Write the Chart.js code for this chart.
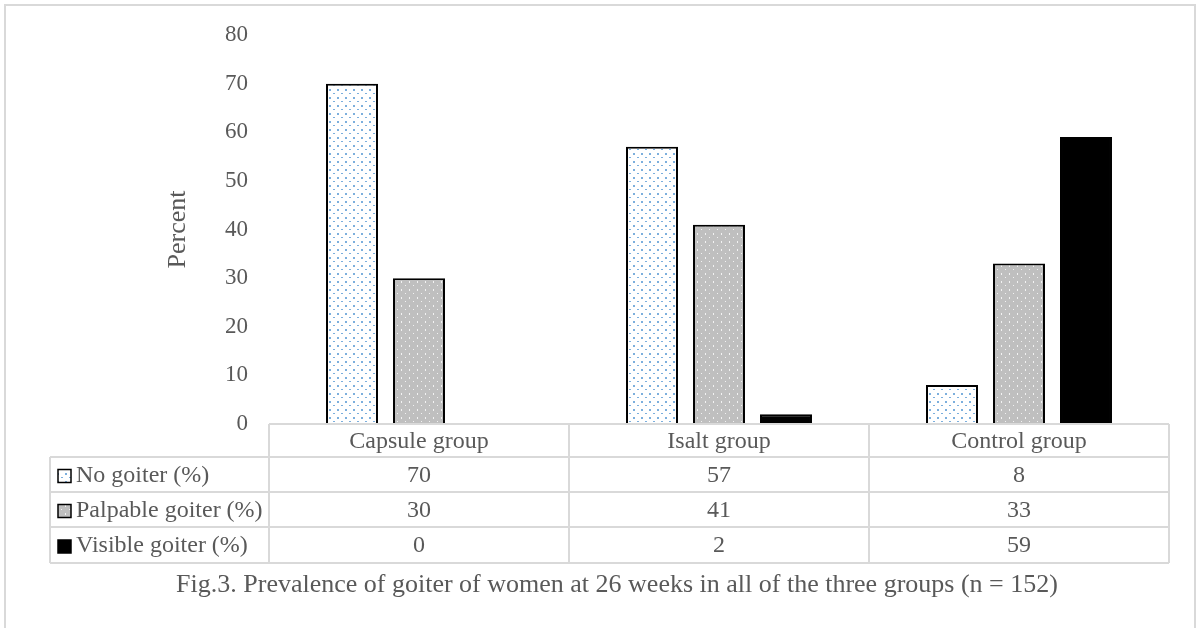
<!DOCTYPE html>
<html>
<head>
<meta charset="utf-8">
<script src="https://cdn.jsdelivr.net/npm/chart.js@4.4.1/dist/chart.umd.min.js"></script>
<style>
  html, body { margin: 0; padding: 0; background: #ffffff; }
  #wrap { width: 1202px; height: 628px; position: relative; }
</style>
</head>
<body>
<div id="wrap"><canvas id="c" width="1202" height="628"></canvas></div>
<script>
// Chart data
const categories = ['Capsule group', 'Isalt group', 'Control group'];
const seriesNames = ['No goiter (%)', 'Palpable goiter (%)', 'Visible goiter (%)'];
const noGoiter = [70, 57, 8];
const palpableGoiter = [30, 41, 33];
const visibleGoiter = [0, 2, 59];
const yTicks = [0, 10, 20, 30, 40, 50, 60, 70, 80];
const caption = 'Fig.3. Prevalence of goiter of women at 26 weeks in all of the three groups (n = 152)';

const FONT = '"Liberation Serif", "Times New Roman", serif';
const TEXT = '#595959';
const GRID = '#d9d9d9';

// Fill patterns
function dotPattern() {
  const t = document.createElement('canvas');
  t.width = 8; t.height = 8;
  const g = t.getContext('2d');
  g.fillStyle = '#ffffff'; g.fillRect(0, 0, 8, 8);
  g.fillStyle = 'rgba(91,155,213,0.8)';
  g.fillRect(1, 1, 2, 2);
  g.fillRect(5, 5, 2, 1);
  return g.createPattern(t, 'repeat');
}
function grayPattern() {
  const t = document.createElement('canvas');
  t.width = 8; t.height = 8;
  const g = t.getContext('2d');
  g.fillStyle = '#bfbfbf'; g.fillRect(0, 0, 8, 8);
  g.fillStyle = 'rgba(255,255,255,0.8)';
  g.fillRect(1, 1, 1, 2);
  g.fillRect(5, 5, 1, 1);
  return g.createPattern(t, 'repeat');
}
const fills = [dotPattern(), grayPattern(), '#000000'];
const seriesData = [noGoiter, palpableGoiter, visibleGoiter];

// Data table, frame and caption under the plot
const tablePlugin = {
  id: 'dataTable',
  afterDraw(chart) {
    const ctx = chart.ctx;
    const area = chart.chartArea;
    const xs = chart.scales.x;
    const left = 50, colX = area.left, right = area.right;
    const top = area.bottom;
    const rowTops = [top, 457, 492, 527, 563];

    ctx.save();
    // outer frame
    ctx.strokeStyle = GRID;
    ctx.lineWidth = 2;
    ctx.strokeRect(5, 5, 1190, 700);

    // grid lines
    ctx.beginPath();
    ctx.moveTo(colX, rowTops[0]); ctx.lineTo(right, rowTops[0]);
    for (let i = 1; i < rowTops.length; i++) {
      ctx.moveTo(left, rowTops[i]); ctx.lineTo(right, rowTops[i]);
    }
    ctx.moveTo(left, rowTops[1]); ctx.lineTo(left, rowTops[4]);
    ctx.moveTo(colX, rowTops[0]); ctx.lineTo(colX, rowTops[4]);
    const step = (right - colX) / categories.length;
    for (let i = 1; i <= categories.length; i++) {
      const x = colX + step * i;
      ctx.moveTo(x, rowTops[0]); ctx.lineTo(x, rowTops[4]);
    }
    ctx.stroke();

    ctx.font = '24px ' + FONT;
    ctx.fillStyle = TEXT;
    ctx.textBaseline = 'middle';
    ctx.textAlign = 'center';
    // header
    categories.forEach((c, i) => {
      ctx.fillText(c, xs.getPixelForValue(i), (rowTops[0] + rowTops[1]) / 2 + 1);
    });
    // rows
    seriesNames.forEach((name, r) => {
      const cy = (rowTops[r + 1] + rowTops[r + 2]) / 2 + 1;
      // legend key
      ctx.fillStyle = fills[r];
      ctx.fillRect(58, cy - 6, 13, 13);
      ctx.strokeStyle = '#000000';
      ctx.lineWidth = 1.5;
      ctx.strokeRect(58, cy - 6, 13, 13);
      ctx.fillStyle = TEXT;
      ctx.textAlign = 'left';
      ctx.fillText(name, 76, cy);
      ctx.textAlign = 'center';
      seriesData[r].forEach((v, i) => {
        ctx.fillText(String(v), xs.getPixelForValue(i), cy);
      });
    });

    // caption
    ctx.font = '26px ' + FONT;
    ctx.textAlign = 'center';
    ctx.fillText(caption, 617, 585);
    ctx.restore();
  }
};

new Chart(document.getElementById('c'), {
  type: 'bar',
  data: {
    labels: categories,
    datasets: seriesNames.map((name, i) => ({
      label: name,
      data: seriesData[i],
      backgroundColor: fills[i],
      borderColor: '#000000',
      borderWidth: 2,
      categoryPercentage: 0.67,
      barPercentage: 0.776
    }))
  },
  options: {
    responsive: false,
    animation: false,
    devicePixelRatio: 1,
    layout: { padding: { left: 159, right: 33, top: 35, bottom: 204 } },
    plugins: { legend: { display: false }, tooltip: { enabled: false } },
    scales: {
      x: { display: false },
      y: {
        min: 0, max: 80,
        afterBuildTicks(scale) { scale.ticks = yTicks.map(v => ({ value: v })); },
        afterFit(scale) { scale.width = 110; },
        grid: { display: false, drawTicks: false },
        border: { display: false },
        ticks: { padding: 21, color: TEXT, font: { family: FONT, size: 23 } },
        title: { display: true, text: 'Percent', color: TEXT, padding: { top: 4, bottom: 4 }, font: { family: FONT, size: 26 } }
      }
    }
  },
  plugins: [tablePlugin]
});
</script>
</body>
</html>
